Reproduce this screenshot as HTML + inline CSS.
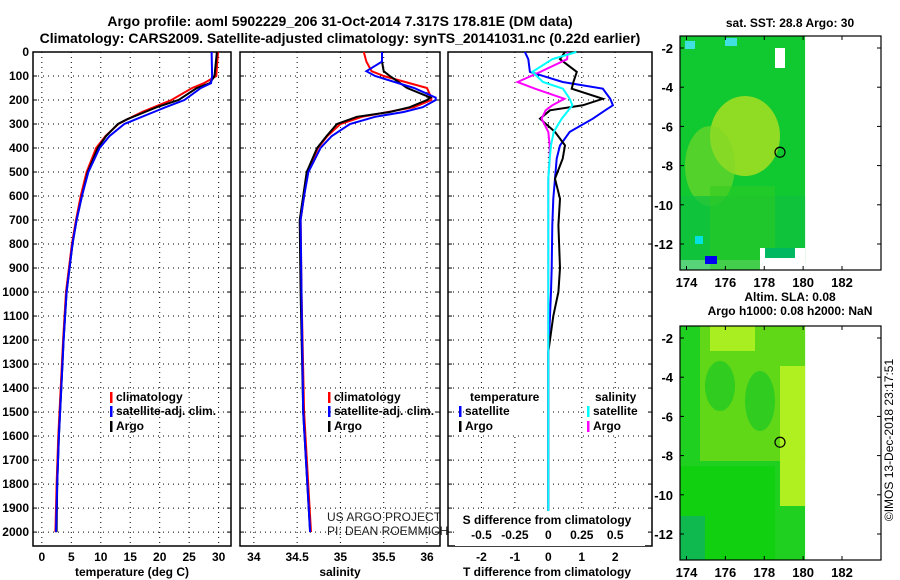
<!DOCTYPE html>
<html><head><meta charset="utf-8"><style>
body{margin:0;background:#fff}
svg{display:block;font-family:"Liberation Sans",sans-serif}
</style></head><body>
<svg id="chart" width="900" height="580" viewBox="0 0 900 580">
<text x="340" y="26" font-size="14" font-weight="bold" text-anchor="middle">Argo profile: aoml 5902229_206 31-Oct-2014 7.317S 178.81E (DM data)</text>
<text x="340" y="43" font-size="14" font-weight="bold" text-anchor="middle">Climatology: CARS2009. Satellite-adjusted climatology: synTS_20141031.nc (0.22d earlier)</text>
<g id="panels"></g>
<g id="maps"></g>
<text transform="translate(893,440) rotate(-90)" font-size="12" text-anchor="middle">©IMOS 13-Dec-2018 23:17:51</text>
</svg>
<script>
// ---- data ----
const tDepth=[0,100,130,150,200,230,250,280,300,350,400,500,600,700,800,1000,1200,1400,1600,1800,2000];
const tArgo=[29.7,29.3,28.5,26.3,23.2,19.5,17.5,14.5,12.9,10.9,9.5,7.8,6.8,5.9,5.2,4.2,3.7,3.3,2.9,2.6,2.5];
const tClim=[29.9,29.6,27.5,25.5,22.0,19.0,17.0,14.5,13.0,10.8,9.2,7.6,6.6,5.8,5.1,4.1,3.6,3.2,2.8,2.5,2.3];
const tSat=[28.8,28.9,28.7,27.0,24.2,21.0,19.0,16.0,14.0,11.5,9.8,7.9,6.8,5.9,5.2,4.2,3.7,3.3,2.9,2.6,2.4];
const sDepth=[0,40,80,100,150,190,200,230,250,270,300,350,400,500,600,700,1000,1500,2000];
const sArgo=[35.48,35.48,35.5,35.57,35.77,36.04,36.0,35.8,35.57,35.19,34.96,34.84,34.73,34.61,34.57,34.53,34.54,34.57,34.65];
const sClim=[35.27,35.3,35.36,35.5,36.0,36.05,36.05,35.85,35.55,35.25,35.0,34.85,34.74,34.62,34.58,34.54,34.55,34.58,34.66];
const sSat=[35.48,35.48,35.3,35.4,35.85,36.1,36.1,35.95,35.73,35.4,35.11,34.9,34.77,34.63,34.58,34.54,34.55,34.57,34.65];
const dDepth=[0,30,83,125,153,195,222,243,278,333,389,444,528,611,722,900,1000,1100,1250,2058];
const dtArgo=[0.5,0.35,0.85,0.75,0.7,1.63,1.03,0.05,-0.25,0.2,0.5,0.43,0.2,0.35,0.3,0.35,0.3,0.15,0,0];
const dtSat=[-0.7,-0.6,-0.55,0.43,1.63,1.85,1.93,1.7,1.33,0.64,0.35,0.25,0.2,0.15,0.12,0.1,0.08,0.05,0,0];
const dsArgo=[0.145,0.14,-0.06,-0.23,-0.1,0.12,0.03,-0.02,-0.05,0,0.01,0.01,0,0,0,0,0,0,0,0];
const dsSat=[0.21,0.03,-0.12,-0.04,0.11,0.16,0.18,0.15,0.1,0.04,0.02,0.01,0,0,0,0,0,0,0,0];
const depthTicks=[0,100,200,300,400,500,600,700,800,900,1000,1100,1200,1300,1400,1500,1600,1700,1800,1900,2000];
const tTicks=[0,5,10,15,20,25,30];
const sTicks=[34,34.5,35,35.5,36];
const dtTicks=[-2,-1,0,1,2];
const dsTicks=[-0.5,-0.25,0,0.25,0.5];
const dsTickLabels=["-0.5","-0.25","0","0.25","0.5"];
const lonTicks=[174,176,178,180,182];
const latTicks=[-2,-4,-6,-8,-10,-12];
const argoLon=178.81, argoLat=-7.317;

const NS='http://www.w3.org/2000/svg';
function mk(tag,attrs,parent,txt){const e=document.createElementNS(NS,tag);for(const k in attrs)e.setAttribute(k,attrs[k]);if(txt!==undefined)e.textContent=txt;parent.appendChild(e);return e;}
const P=document.getElementById('panels');
const plotTop=52,plotBot=546,d0=0,d1=2058;
const yD=d=>plotTop+(d-d0)/(d1-d0)*(plotBot-plotTop);
function axis(x0,x1,v0,v1){return v=>x0+(v-v0)/(v1-v0)*(x1-x0);}
const xT=axis(33,231,-1.5,32.1);
const xS=axis(240,440,33.84,36.15);
const xDT=axis(448,652,-3.0,3.1);
const xDS=v=>xDT(v*4);

function frame(name){
  const g=mk('g',{},P);
  
  
  return g;
}
function grid(g,x0,x1,xs){
  depthTicks.forEach(d=>{const y=yD(d);const l=mk('line',{x1:x0,x2:x1,y1:y,y2:y,stroke:'#000','stroke-dasharray':'1,4','stroke-width':1},g);
    
    mk('line',{x1:x0,x2:x0+4,y1:y,y2:y,stroke:'#000'},g);mk('line',{x1:x1-4,x2:x1,y1:y,y2:y,stroke:'#000'},g);});
  xs.forEach(x=>{const l=mk('line',{x1:x,x2:x,y1:plotTop,y2:plotBot,stroke:'#000','stroke-dasharray':'1,4'},g);
    });
  const r=mk('rect',{x:x0,y:plotTop,width:x1-x0,height:plotBot-plotTop,fill:'none',stroke:'#000','stroke-width':1.5},g);
  
}
function line(g,depths,vals,xf,color,name){
  const pts=depths.map((d,i)=>xf(vals[i]).toFixed(1)+','+yD(d).toFixed(1)).join(' ');
  const p=mk('polyline',{points:pts,fill:'none',stroke:color,'stroke-width':2},g);
  
  
}
function xlabels(g,ticks,xf,labels){
  ticks.forEach((t,i)=>{const e=mk('text',{x:xf(t),y:561,'font-size':12,'font-weight':'bold','text-anchor':'middle'},g,labels?labels[i]:String(t));
    });
}
function legend(g,x,y,color,label,nm){
  mk('rect',{x:x,y:y-9,width:2.5,height:11,fill:color},g);
  const t=mk('text',{x:x+6,y:y,'font-size':12,'font-weight':'bold'},g,label);
  
}
// panel 1
let g=frame('temperature-panel');
grid(g,33,231,tTicks.map(xT));
depthTicks.forEach(d=>{const e=mk('text',{x:29,y:yD(d)+4,'font-size':12,'font-weight':'bold','text-anchor':'end'},g,String(d));
  });
line(g,tDepth,tClim,xT,'#f00','temp-climatology-line');
line(g,tDepth,tArgo,xT,'#000','temp-argo-line');
line(g,tDepth,tSat,xT,'#00f','temp-satellite-line');
xlabels(g,tTicks,xT);
let e=mk('text',{x:132,y:576,'font-size':12,'font-weight':'bold','text-anchor':'middle'},g,'temperature (deg C)');

legend(g,110,401,'#f00','climatology','legend-climatology');
legend(g,110,415,'#00f','satellite-adj. clim.','legend-satellite');
legend(g,110,430,'#000','Argo','legend-argo');
// panel 2
g=frame('salinity-panel');
grid(g,240,440,sTicks.map(xS));
line(g,sDepth,sClim,xS,'#f00','sal-climatology-line');
line(g,sDepth,sArgo,xS,'#000','sal-argo-line');
line(g,sDepth,sSat,xS,'#00f','sal-satellite-line');
xlabels(g,sTicks,xS);
e=mk('text',{x:340,y:576,'font-size':12,'font-weight':'bold','text-anchor':'middle'},g,'salinity');

legend(g,328,401,'#f00','climatology','legend-climatology');
legend(g,328,415,'#00f','satellite-adj. clim.','legend-satellite');
legend(g,328,430,'#000','Argo','legend-argo');
e=mk('text',{x:327,y:521,'font-size':12,fill:'#222'},g,'US ARGO PROJECT');

e=mk('text',{x:327,y:535,'font-size':12,fill:'#222'},g,'PI: DEAN ROEMMICH');

// panel 3
g=frame('difference-panel');
grid(g,448,652,dtTicks.map(xDT));
line(g,dDepth,dtSat,xDT,'#00f','dt-satellite-line');
line(g,dDepth,dtArgo,xDT,'#000','dt-argo-line');
line(g,dDepth,dsArgo,xDS,'#f0f','ds-argo-line');
line(g,dDepth,dsSat,xDS,'#0ff','ds-satellite-line');
xlabels(g,dtTicks,xDT);
e=mk('text',{x:547,y:576,'font-size':12,'font-weight':'bold','text-anchor':'middle'},g,'T difference from climatology');

mk('rect',{x:455,y:511,width:190,height:35,fill:'#fff'},g);
e=mk('text',{x:547,y:524,'font-size':12,'font-weight':'bold','text-anchor':'middle'},g,'S difference from climatology');

dsTicks.forEach((t,i)=>{const el=mk('text',{x:xDS(t),y:539,'font-size':12,'font-weight':'bold','text-anchor':'middle'},g,dsTickLabels[i]);
  });
mk('rect',{x:466,y:390,width:76,height:44,fill:'#fff'},g);
mk('rect',{x:588,y:390,width:56,height:44,fill:'#fff'},g);
e=mk('text',{x:470,y:401,'font-size':12,'font-weight':'bold'},g,'temperature');

legend(g,459,415,'#00f','satellite','legend-t-satellite');
legend(g,459,430,'#000','Argo','legend-t-argo');
e=mk('text',{x:595,y:401,'font-size':12,'font-weight':'bold'},g,'salinity');

legend(g,587,415,'#0ff','satellite','legend-s-satellite');
legend(g,587,430,'#f0f','Argo','legend-s-argo');

// maps
const M=document.getElementById('maps');
function map(y0,kind,titles){
  const x0=680,x1=881,y1=y0+234;
  const lonX=axis(686.5,842,174,182);
  const latY=v=>y0+12+(-2-v)*19.6;
  const g=mk('g',{},M);
  
  
  const dx=lonX(180.1);
  if(kind==='sst'){
    mk('rect',{x:x0,y:y0,width:dx-x0,height:y1-y0-10,fill:'#10c830'},g);
    mk('ellipse',{cx:x0+65,cy:y0+100,rx:35,ry:40,fill:'#b0e020',opacity:0.8},g);
    mk('ellipse',{cx:x0+30,cy:y0+130,rx:25,ry:40,fill:'#80d828',opacity:0.6},g);
    mk('rect',{x:x0,y:y0+160,width:dx-x0,height:74,fill:'#10c040',opacity:0.7},g);
    mk('rect',{x:x0+30,y:y0+150,width:dx-x0-60,height:84,fill:'#30cc20',opacity:0.5},g);
    mk('rect',{x:x0+15,y:y0+200,width:8,height:8,fill:'#00e0e0'},g);
    mk('rect',{x:x0+25,y:y0+220,width:12,height:8,fill:'#0000f0'},g);
    mk('rect',{x:x0+5,y:y0+5,width:10,height:8,fill:'#40e0e0'},g);
    mk('rect',{x:x0+45,y:y0+2,width:12,height:8,fill:'#40e0e0'},g);
    mk('rect',{x:x0+95,y:y0+12,width:10,height:20,fill:'#fff'},g);
    mk('rect',{x:x0+80,y:y1-22,width:dx-x0-80,height:22,fill:'#fff'},g);
    mk('rect',{x:x0+85,y:y1-22,width:30,height:10,fill:'#00b860'},g);
  } else {
    mk('rect',{x:x0,y:y0,width:dx-x0,height:y1-y0,fill:'#20d020'},g);
    mk('rect',{x:x0+20,y:y0,width:dx-x0-20,height:135,fill:'#60d818'},g);
    mk('ellipse',{cx:x0+40,cy:y0+60,rx:15,ry:25,fill:'#30cc20'},g);
    mk('ellipse',{cx:x0+80,cy:y0+75,rx:15,ry:30,fill:'#30cc20'},g);
    mk('rect',{x:x0+100,y:y0+40,width:dx-x0-100,height:140,fill:'#b0f020'},g);
    mk('rect',{x:x0+30,y:y0,width:45,height:25,fill:'#a8ee20'},g);
    mk('rect',{x:x0,y:y0+140,width:dx-x0-30,height:94,fill:'#10d010'},g);
    mk('rect',{x:x0,y:y0+190,width:25,height:44,fill:'#10b850'},g);
  }
  mk('rect',{x:x0,y:y0,width:x1-x0,height:y1-y0,fill:'none',stroke:'#000','stroke-width':1.2},g);
  lonTicks.forEach(v=>{const x=lonX(v);mk('line',{x1:x,x2:x,y1:y1,y2:y1-4,stroke:'#000'},g);mk('line',{x1:x,x2:x,y1:y0,y2:y0+4,stroke:'#000'},g);
    const t=mk('text',{x:x,y:y1+17,'font-size':13,'font-weight':'bold','text-anchor':'middle'},g,String(v));
    });
  latTicks.forEach(v=>{const y=latY(v);mk('line',{x1:x0,x2:x0+4,y1:y,y2:y,stroke:'#000'},g);mk('line',{x1:x1-4,x2:x1,y1:y,y2:y,stroke:'#000'},g);
    const t=mk('text',{x:x0-7,y:y+5,'font-size':13,'font-weight':'bold','text-anchor':'end'},g,String(v));
    });
  const c=mk('circle',{cx:lonX(argoLon),cy:latY(argoLat),r:5,fill:'none',stroke:'#000','stroke-width':1.2},g);
  
  titles.forEach(tt=>{const t=mk('text',{x:790,y:tt[1],'font-size':12,'font-weight':'bold','text-anchor':'middle'},g,tt[0]);
    });
}
map(36,'sst',[['sat. SST: 28.8 Argo: 30',27]]);
map(326,'sla',[['Altim. SLA: 0.08',301],['Argo h1000: 0.08 h2000: NaN',315]]);
</script>
</body></html>
